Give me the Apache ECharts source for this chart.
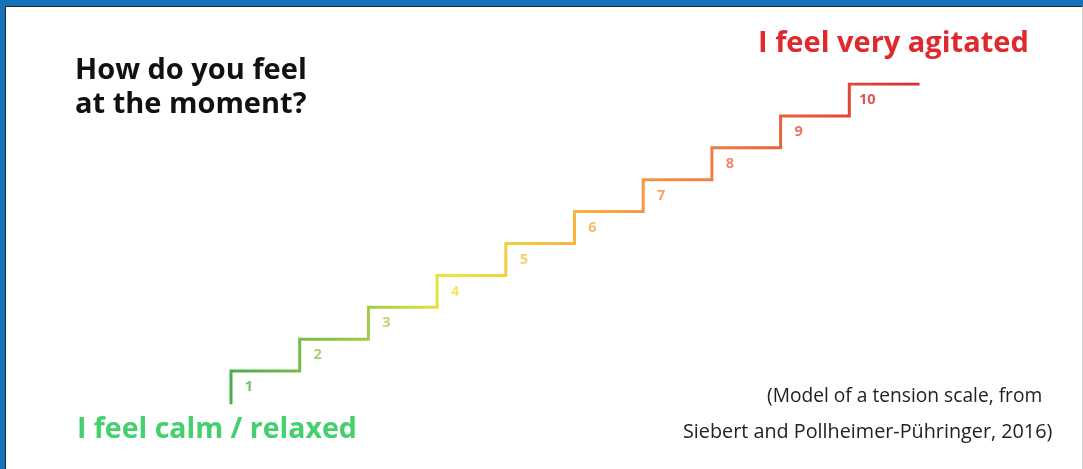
<!DOCTYPE html>
<html>
<head>
<meta charset="utf-8">
<script src="https://cdn.jsdelivr.net/npm/echarts@6/dist/echarts.min.js"></script>
<style>
  html, body { margin: 0; padding: 0; background: #ffffff; }
  #frame {
    position: absolute; left: 0; top: 0; width: 1083px; height: 469px;
    box-sizing: border-box;
    border-top: 6px solid #1672b9;
    border-left: 5px solid #1672b9;
  }
  #frame .inner {
    width: 100%; height: 100%; box-sizing: border-box;
    border-top: 1px solid #1b2633;
    border-left: 1px solid #1b2633;
    border-right: 1px solid #d0d0d0;
  }
  #chart { position: absolute; left: 0; top: 0; width: 1083px; height: 469px; }
</style>
</head>
<body>
<div id="frame"><div class="inner"></div></div>
<div id="chart"></div>
<script>
// stair levels: position along the scale (x) and tension level (y)
const stepX = [0, 1, 2, 3, 4, 5, 6, 7, 8, 9, 10]
const stepLevel = [0, 1, 2, 3, 4, 5, 6, 7, 8, 9, 10]
// numbers written on each step
const stepLabels = ['1', '2', '3', '4', '5', '6', '7', '8', '9', '10']
const stepColors = ['#4cb050', '#8ec54c', '#a9cd45', '#ece33a', '#f8c43f', '#f6a945',
  '#f28a44', '#ee6c45', '#e84f3e', '#df2a2f']

const chart = echarts.init(document.getElementById('chart'))

const lineData = stepX.map((x, i) => [x, stepLevel[i]])
const labelData = stepLabels.map((txt, i) => ({
  value: [stepX[i], stepLevel[i + 1]],
  name: txt,
  label: { color: stepColors[i] }
}))

const option = {
  animation: false,
  backgroundColor: 'transparent',
  grid: { left: 231, right: 165, top: 84, bottom: 66 },
  xAxis: { type: 'value', min: 0, max: 10, show: false },
  yAxis: { type: 'value', min: 0, max: 10, show: false },
  series: [
    {
      type: 'line',
      step: 'start',
      data: lineData,
      symbol: 'none',
      lineStyle: {
        width: 3,
        cap: 'square',
        join: 'miter',
        color: {
          type: 'linear', x: 0, y: 0, x2: 1, y2: 0,
          colorStops: [
            { offset: 0, color: '#47ad4c' },
            { offset: 0.2, color: '#9fcb47' },
            { offset: 0.32, color: '#eee63b' },
            { offset: 0.5, color: '#f8b440' },
            { offset: 0.7, color: '#f07c44' },
            { offset: 1, color: '#dd2a2e' }
          ]
        }
      }
    },
    {
      type: 'scatter',
      data: labelData,
      symbolSize: 1,
      itemStyle: { color: 'rgba(0,0,0,0)' },
      label: {
        show: true,
        position: 'inside',
        offset: [18, 16],
        formatter: (p) => p.name,
        fontFamily: 'Open Sans',
        fontWeight: 'bold',
        fontSize: 14.5
      }
    }
  ],
  graphic: [
    {
      type: 'text', left: 75, top: 54,
      style: {
        text: 'How do you feel\nat the moment?',
        fill: '#111111', font: 'bold 29px "Open Sans"', lineHeight: 34
      }
    },
    {
      type: 'text', left: 758, top: 29,
      style: { text: 'I feel very agitated', fill: '#e0292c', font: 'bold 29px "Open Sans"' }
    },
    {
      type: 'text', left: 77, top: 415,
      style: { text: 'I feel calm / relaxed', fill: '#45d06e', font: 'bold 28.5px "Open Sans"' }
    },
    {
      type: 'text', left: 767, top: 387,
      style: { text: '(Model of a tension scale, from', fill: '#222222', font: '19.2px "Open Sans"' }
    },
    {
      type: 'text', left: 683, top: 422,
      style: { text: 'Siebert and Pollheimer-Pühringer, 2016)', fill: '#222222', font: '19.8px "Open Sans"' }
    }
  ]
}
chart.setOption(option)
</script>
</body>
</html>
